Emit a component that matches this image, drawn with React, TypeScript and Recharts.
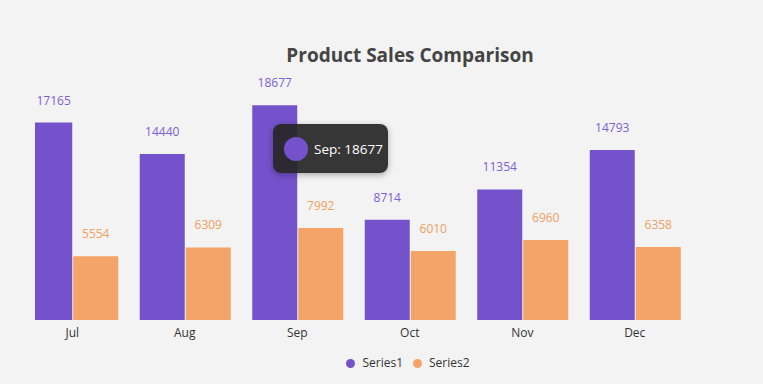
import React from 'react';
import {
  BarChart,
  Bar,
  XAxis,
  YAxis,
  Tooltip,
  Legend,
  LabelList,
  Rectangle,
} from 'recharts';

const months = ['Jul', 'Aug', 'Sep', 'Oct', 'Nov', 'Dec'];
const series1 = [17165, 14440, 18677, 8714, 11354, 14793];
const series2 = [5554, 6309, 7992, 6010, 6960, 6358];

const data = months.map((m, i) => ({ month: m, Series1: series1[i], Series2: series2[i] }));

const PURPLE = '#7452cc';
const ORANGE = '#f3a466';
const FONT = '"Open Sans", "Noto Sans", sans-serif';
const PLOT_LEFT = 35;

// the first bar is cut off by the plot edge in the original
const clippedBar = (props: any) => {
  const x0 = Math.max(props.x, PLOT_LEFT);
  const w = props.x + props.width - x0;
  return <Rectangle {...props} x={x0} width={w} />;
};

const makeLabel = (color: string) => (props: any) => {
  const { x, y, width, value } = props;
  const x0 = Math.max(x, PLOT_LEFT);
  const cx = (x0 + x + width) / 2;
  return (
    <text x={cx} y={y - 18} fill={color} fontSize={12} fontFamily={FONT} textAnchor="middle">
      {value}
    </text>
  );
};

const TipBox = ({ payload }: any) => {
  if (!payload || !payload.length) return null;
  const p = payload[0];
  return (
    <div
      style={{
        background: 'rgba(38,38,38,0.92)',
        borderRadius: 8,
        width: 115,
        height: 49,
        boxSizing: 'border-box',
        display: 'flex',
        alignItems: 'center',
        padding: '0 9px 0 11px',
        boxShadow: '0 2px 6px rgba(0,0,0,0.3)',
        fontFamily: FONT,
        whiteSpace: 'nowrap',
      }}
    >
      <span style={{ width: 24, height: 24, borderRadius: 12, background: PURPLE, display: 'inline-block', flex: 'none' }} />
      <span style={{ color: '#fff', fontSize: 13.5, marginLeft: 6 }}>
        {p.payload.month}: {p.value}
      </span>
    </div>
  );
};

export default function App() {
  return (
    <div style={{ position: 'absolute', left: 0, top: 0, width: 763, height: 384, background: '#f3f3f3' }}>
      <div
        style={{
          position: 'absolute',
          top: 42,
          left: 0,
          width: 820,
          textAlign: 'center',
          fontFamily: FONT,
          fontWeight: 700,
          fontSize: 19,
          color: '#444',
        }}
      >
        Product Sales Comparison
      </div>
      <BarChart
        width={763}
        height={384}
        data={data}
        margin={{ top: 90, right: 72, left: PLOT_LEFT, bottom: 34 }}
        barCategoryGap="10%"
        barGap={1}
      >
        <XAxis
          dataKey="month"
          padding={{ left: -19, right: 0 }}
          axisLine={false}
          tickLine={false}
          tick={{ fill: '#333', fontSize: 12, fontFamily: FONT }}
          height={30}
        />
        <YAxis hide domain={[0, 20000]} />
        <Tooltip
          defaultIndex={2}
          cursor={false}
          isAnimationActive={false}
          position={{ x: 273, y: 124 }}
          content={<TipBox />}
          wrapperStyle={{ outline: 'none' }}
        />
        <Legend
          layout="horizontal"
          verticalAlign="middle"
          align="center"
          iconType="circle"
          iconSize={9}
          wrapperStyle={{ top: 354, left: 0, width: 826, fontFamily: FONT, fontSize: 12, color: '#333' }}
          formatter={(v: string) => <span style={{ color: '#333', marginLeft: 3 }}>{v}</span>}
        />
        <Bar dataKey="Series1" fill={PURPLE} shape={clippedBar} isAnimationActive={false}>
          <LabelList dataKey="Series1" content={makeLabel('#7b5fd6')} />
        </Bar>
        <Bar dataKey="Series2" fill={ORANGE} shape={clippedBar} isAnimationActive={false}>
          <LabelList dataKey="Series2" content={makeLabel('#f0a060')} />
        </Bar>
      </BarChart>
    </div>
  );
}
